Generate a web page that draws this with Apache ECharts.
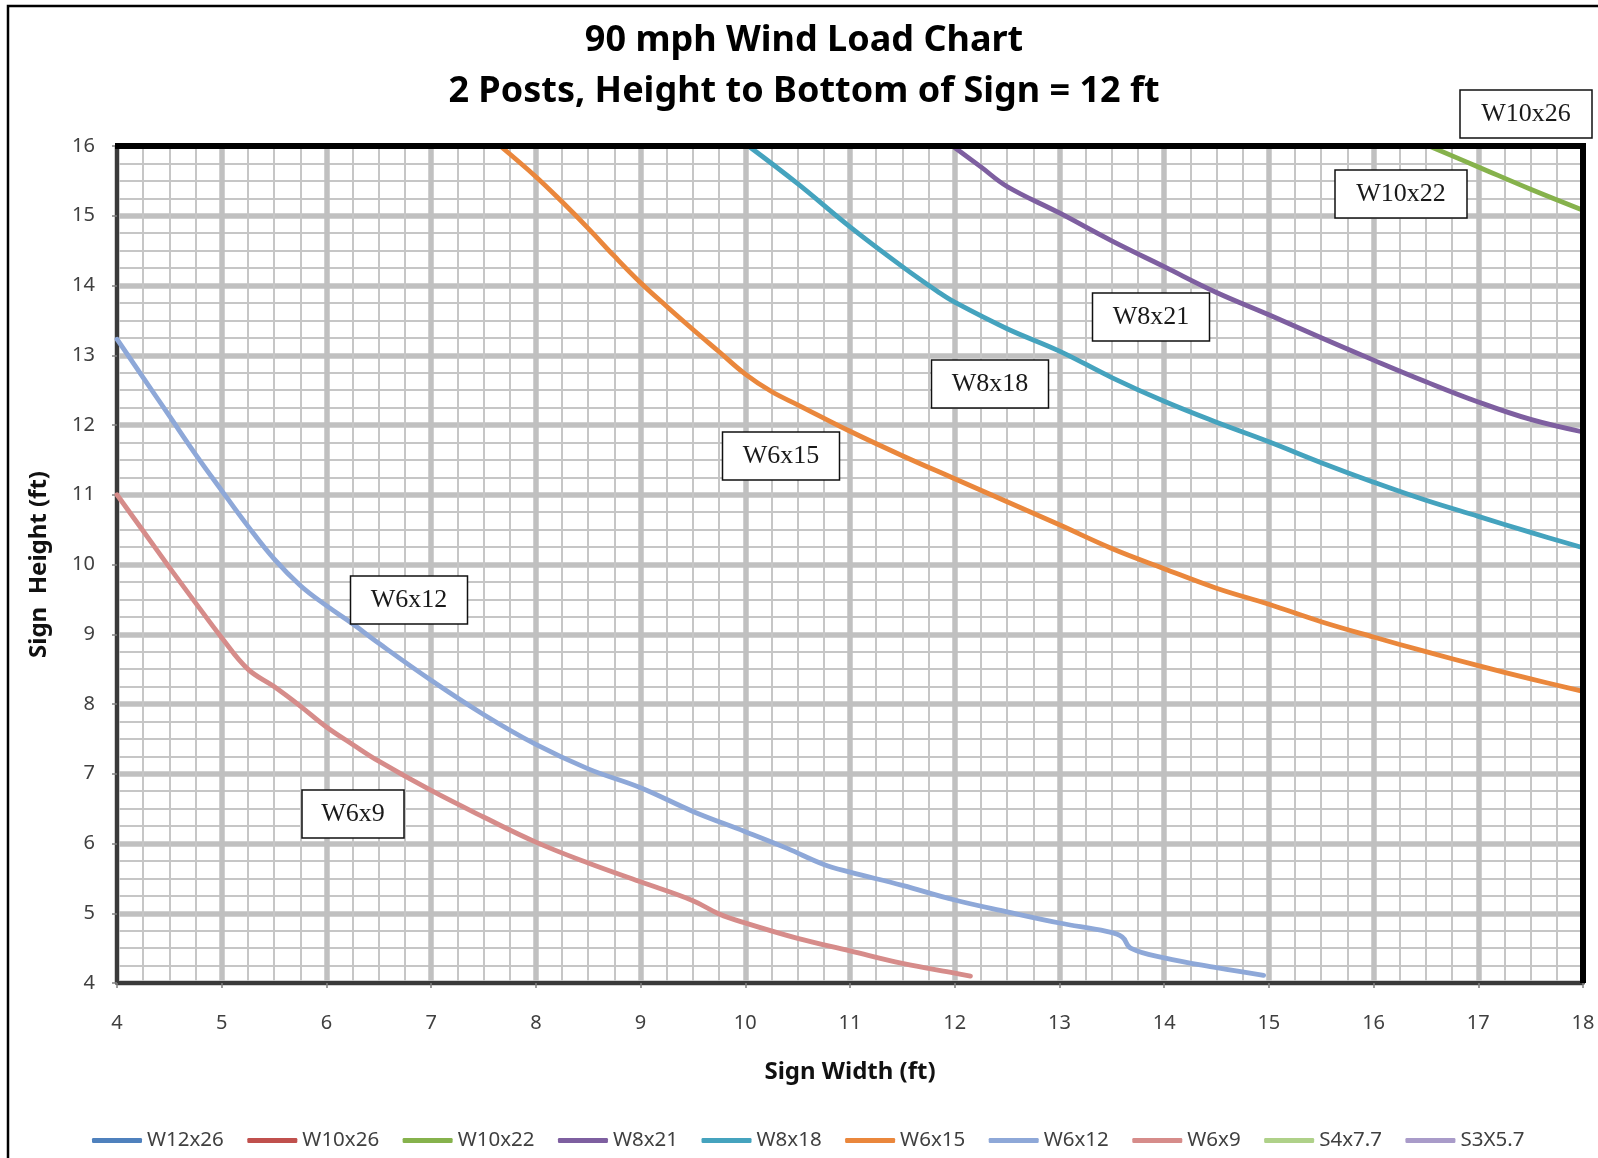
<!DOCTYPE html>
<html>
<head>
<meta charset="utf-8">
<script src="https://cdn.jsdelivr.net/npm/echarts/dist/echarts.min.js"></script>
<style>
html,body{margin:0;padding:0;background:#fff;}
#c{width:1598px;height:1158px;}
</style>
</head>
<body>
<div id="c"></div>
<script>
// ---------- DATA ----------
const seriesNames = ['W12x26','W10x26','W10x22','W8x21','W8x18','W6x15','W6x12','W6x9','S4x7.7','S3X5.7'];

const w12x26X = [];
const w12x26Y = [];
const w10x26X = [];
const w10x26Y = [];

const w10x22X = [16.53, 17.0, 17.5, 18.0];
const w10x22Y = [16.0, 15.7, 15.38, 15.08];

const w8x21X = [11.98, 12.25, 12.5, 13.0, 13.5, 14.0, 14.5, 15.0, 15.5, 16.0, 16.5, 17.0, 17.5, 18.0];
const w8x21Y = [16.0, 15.7, 15.42, 15.04, 14.64, 14.27, 13.9, 13.58, 13.25, 12.93, 12.62, 12.33, 12.08, 11.9];

const w8x18X = [10.03, 10.5, 11.0, 11.5, 11.85, 12.0, 12.5, 13.0, 13.5, 14.0, 14.5, 15.0, 15.5, 16.0, 16.5, 17.0, 17.5, 18.0];
const w8x18Y = [16.0, 15.46, 14.84, 14.27, 13.9, 13.76, 13.38, 13.06, 12.68, 12.34, 12.04, 11.76, 11.46, 11.18, 10.92, 10.69, 10.46, 10.24];

const w6x15X = [7.66, 8.0, 8.25, 8.5, 8.75, 9.0, 9.25, 9.5, 9.75, 10.0, 10.25, 10.5, 11.0, 11.5, 12.0, 12.5, 13.0, 13.5, 14.0, 14.5, 15.0, 15.5, 16.0, 16.5, 17.0, 17.5, 18.0];
const w6x15Y = [16.0, 15.56, 15.2, 14.82, 14.42, 14.04, 13.7, 13.37, 13.05, 12.73, 12.48, 12.29, 11.91, 11.56, 11.23, 10.9, 10.57, 10.23, 9.94, 9.66, 9.43, 9.18, 8.96, 8.75, 8.55, 8.36, 8.18];

const w6x12X = [4.0, 4.25, 4.5, 4.75, 5.0, 5.25, 5.5, 5.75, 6.0, 6.25, 6.5, 7.0, 7.5, 8.0, 8.5, 9.0, 9.5, 10.0, 10.4, 10.75, 11.0, 11.5, 12.0, 12.5, 13.0, 13.45, 13.6, 13.68, 14.0, 14.5, 14.95];
const w6x12Y = [13.23, 12.68, 12.13, 11.58, 11.06, 10.55, 10.08, 9.7, 9.41, 9.15, 8.87, 8.34, 7.85, 7.42, 7.07, 6.8, 6.46, 6.17, 5.93, 5.7, 5.59, 5.4, 5.19, 5.02, 4.86, 4.74, 4.66, 4.5, 4.36, 4.22, 4.11];

const w6x9X = [4.0, 4.25, 4.5, 4.75, 5.0, 5.25, 5.5, 5.75, 6.0, 6.25, 6.5, 7.0, 7.5, 8.0, 8.5, 9.0, 9.5, 9.75, 10.0, 10.5, 11.0, 11.5, 12.0, 12.15];
const w6x9Y = [11.0, 10.48, 9.96, 9.45, 8.95, 8.5, 8.25, 7.97, 7.67, 7.42, 7.18, 6.76, 6.38, 6.02, 5.72, 5.45, 5.18, 4.99, 4.86, 4.64, 4.46, 4.28, 4.14, 4.1];

const s4x77X = [];
const s4x77Y = [];
const s3x57X = [];
const s3x57Y = [];

const annotationLabels = ['W10x26','W10x22','W8x21','W8x18','W6x15','W6x12','W6x9'];

const titleLine1 = '90 mph Wind Load Chart';
const titleLine2 = '2 Posts, Height to Bottom of Sign = 12 ft';
const xAxisTitle = 'Sign Width (ft)';
const yAxisTitle = 'Sign  Height (ft)';

// ---------- STYLE / LAYOUT ----------
const colors = ['#4F81BD','#C0504D','#86B24C','#7E5FA0','#45A3BE','#EA873C','#8EA8D8','#D68C8A','#AFD189','#A99BC9'];
const xsList = [w12x26X, w10x26X, w10x22X, w8x21X, w8x18X, w6x15X, w6x12X, w6x9X, s4x77X, s3x57X];
const ysList = [w12x26Y, w10x26Y, w10x22Y, w8x21Y, w8x18Y, w6x15Y, w6x12Y, w6x9Y, s4x77Y, s3x57Y];

// box layout (pixel centers and widths)
const boxLayout = [
  {cx:1526, cy:114, w:132},
  {cx:1401, cy:194, w:132},
  {cx:1151, cy:317, w:117},
  {cx:990,  cy:384, w:117},
  {cx:781,  cy:456, w:117},
  {cx:409,  cy:600, w:117},
  {cx:353,  cy:814, w:102}
];
const boxH = 48;

const G = {left:117, top:146, right:15, bottom:175};
const plotR = 1598 - G.right, plotB = 1158 - G.bottom;

const series = seriesNames.map((name, i) => ({
  name: name,
  type: 'line',
  data: xsList[i].map((x, k) => [x, ysList[i][k]]),
  smooth: 0.4,
  showSymbol: false,
  symbol: 'none',
  color: colors[i],
  itemStyle: {color: colors[i]},
  lineStyle: {color: colors[i], width: 4.8, cap: 'round', join: 'round'},
  z: 3
}));

const titleFont = {fontFamily:'Noto Sans', fontWeight:'bold', fontSize:36, fill:'#000', align:'center', verticalAlign:'middle', textAlign:'center', textVerticalAlign:'middle'};

const graphics = [
  {type:'rect', z:0, silent:true, shape:{x:8, y:6, width:1620, height:1180}, style:{fill:'none', stroke:'#000', lineWidth:2.5}},
  {type:'text', z:20, x:804, y:41, style:Object.assign({text:titleLine1}, titleFont)},
  {type:'text', z:20, x:804, y:92, style:Object.assign({text:titleLine2}, titleFont)},
  {type:'line', z:15, silent:true, shape:{x1:G.left-2, y1:G.top, x2:plotR+3, y2:G.top}, style:{stroke:'#000', lineWidth:6}},
  {type:'line', z:15, silent:true, shape:{x1:plotR, y1:G.top, x2:plotR, y2:plotB}, style:{stroke:'#000', lineWidth:6}}
];
annotationLabels.forEach((t, i) => {
  const b = boxLayout[i];
  graphics.push({type:'rect', z:30, silent:true, shape:{x:b.cx - b.w/2, y:b.cy - boxH/2, width:b.w, height:boxH}, style:{fill:'#fff', stroke:'#111', lineWidth:1.5}});
  graphics.push({type:'text', z:31, silent:true, x:b.cx, y:b.cy, style:{text:t, fontFamily:'Liberation Serif', fontSize:26, fill:'#1a1a1a', align:'center', verticalAlign:'middle', textAlign:'center', textVerticalAlign:'middle'}});
});

const axisCommon = {
  type: 'value',
  interval: 1,
  axisLine: {show:true, onZero:false, lineStyle:{color:'#3a3a3a', width:4}},
  axisTick: {show:true, length:5, inside:false, lineStyle:{color:'#808080', width:1.5}},
  splitLine: {show:true, lineStyle:{color:'#c0c0c0', width:5.5}},
  minorTick: {show:false, splitNumber:4},
  minorSplitLine: {show:true, lineStyle:{color:'#c6c6c6', width:2}},
  nameLocation: 'middle',
  nameTextStyle: {fontFamily:'Noto Sans', fontWeight:'bold', fontSize:24, color:'#111'}
};

const option = {
  backgroundColor: '#ffffff',
  animation: false,
  grid: {left:G.left, top:G.top, right:G.right, bottom:G.bottom, containLabel:false},
  xAxis: Object.assign({}, axisCommon, {
    min: 4, max: 18,
    name: xAxisTitle, nameGap: 77,
    axisLabel: {fontFamily:'Noto Sans', fontSize:20, color:'#404040', margin:30}
  }),
  yAxis: Object.assign({}, axisCommon, {
    min: 4, max: 16,
    name: yAxisTitle, nameGap: 66, nameRotate: 90,
    axisLabel: {fontFamily:'Noto Sans', fontSize:20, color:'#404040', margin:22}
  }),
  legend: {
    data: seriesNames,
    left: 92, top: 1130,
    padding: 0,
    itemWidth: 50, itemHeight: 5, itemGap: 23.5,
    icon: 'roundRect',
    textStyle: {fontFamily:'Noto Sans', fontSize:20.5, color:'#404040'}
  },
  graphic: graphics,
  series: series
};

const chart = echarts.init(document.getElementById('c'), null, {renderer:'canvas'});
chart.setOption(option);
</script>
</body>
</html>
